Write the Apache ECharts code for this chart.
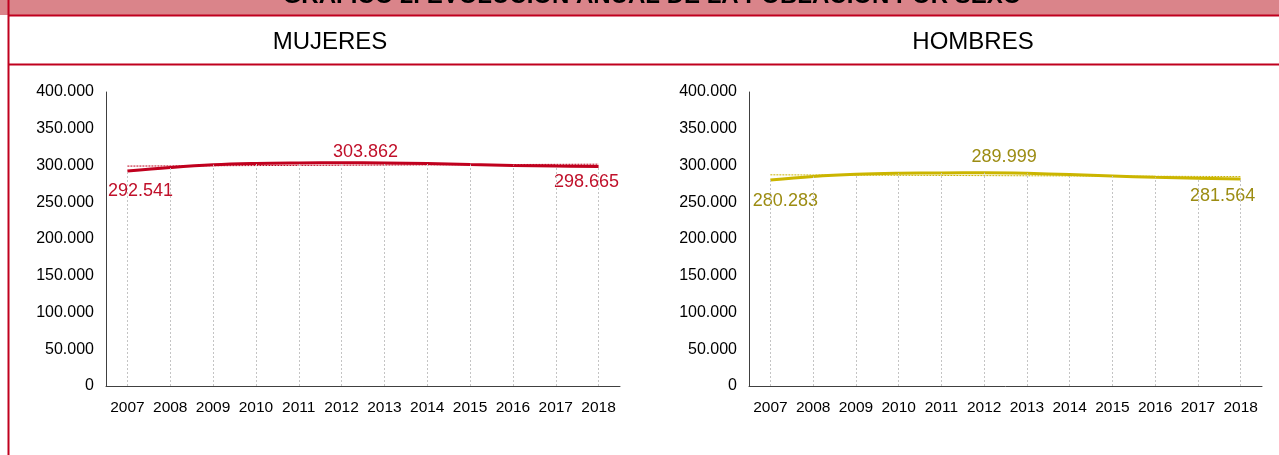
<!DOCTYPE html>
<html><head><meta charset="utf-8">
<script src="https://cdn.jsdelivr.net/npm/echarts@6/dist/echarts.min.js"></script>
<style>html,body{margin:0;padding:0;background:#fff}#c{width:1279px;height:455px}</style>
</head><body><div id="c"></div>
<script>
const years = ['2007','2008','2009','2010','2011','2012','2013','2014','2015','2016','2017','2018'];
const mujeres = [292541, 297300, 300900, 302700, 303500, 303862, 303500, 302600, 301200, 300000, 299200, 298665];
const hombres = [280283, 285100, 288000, 289400, 289900, 289999, 289300, 287700, 285800, 283900, 282600, 281564];
const yMin = 0, yMax = 400000, yStep = 50000;
const mainTitle = 'GRÁFICO 2. EVOLUCIÓN ANUAL DE LA POBLACIÓN POR SEXO';
const panelTitles = ['MUJERES', 'HOMBRES'];

const RED = '#c0001e', RED_LABEL = '#c0102a';
const YEL = '#cbb500', YEL_LABEL = '#9c8c12';
const FONT = 'Liberation Sans, Arial, sans-serif';

function fmt(v){
  const s = String(Math.round(v));
  return s.replace(/\B(?=(\d{3})+(?!\d))/g, '.');
}
function trend(arr){
  const n = arr.length; let sx=0, sy=0, sxx=0, sxy=0;
  arr.forEach((y,i)=>{sx+=i; sy+=y; sxx+=i*i; sxy+=i*y;});
  const b = (n*sxy - sx*sy)/(n*sxx - sx*sx), a = (sy - b*sx)/n;
  return arr.map((_,i)=>a+b*i);
}
function labeled(arr, color, offs){
  const maxI = arr.indexOf(Math.max(...arr));
  return arr.map((v,i)=>{
    let o = null;
    if (i===0) o = offs[0]; else if (i===maxI) o = offs[1]; else if (i===arr.length-1) o = offs[2];
    if (!o) return v;
    return {value: v, label: {show: true, position: o.pos, offset: o.off, color: color,
      fontSize: 18, fontFamily: FONT, formatter: p => fmt(p.value)}};
  });
}
function dropLines(arr){
  return {
    silent:true, symbol:['none','none'], label:{show:false},
    lineStyle:{color:'#c4c4c4', type:[2,2], width:1},
    data: arr.map((v,i)=>[{coord:[i,0]},{coord:[i,v]}])
  };
}

const grids = [{left:106, top:92, width:514, height:294},{left:749, top:92, width:513, height:294}];
const xAxes = grids.map((g,i)=>({
  type:'category', gridIndex:i, data:years, boundaryGap:true,
  axisLine:{show:true, lineStyle:{color:'#404040', width:1}},
  axisTick:{show:false},
  axisLabel:{color:'#000', fontSize:15.5, fontFamily:FONT, margin:14, interval:0},
  splitLine:{show:false}
}));
const yAxes = grids.map((g,i)=>({
  type:'value', gridIndex:i, min:yMin, max:yMax, interval:yStep,
  axisLine:{show:true, lineStyle:{color:'#404040', width:1}},
  axisTick:{show:false},
  splitLine:{show:false},
  axisLabel:{color:'#000', fontSize:16, fontFamily:FONT, margin:12, formatter: v => fmt(v)}
}));

const option = {
  backgroundColor:'#fff',
  animation:false,
  grid: grids,
  xAxis: xAxes,
  yAxis: yAxes,
  series: [
    {type:'line', xAxisIndex:0, yAxisIndex:0, data: trend(mujeres), symbol:'none', z:2,
     lineStyle:{color:RED, width:1, type:[2,1]}, silent:true},
    {type:'line', xAxisIndex:0, yAxisIndex:0, smooth:0.4, symbol:'circle', symbolSize:0, showSymbol:true, z:3,
     itemStyle:{color:RED}, lineStyle:{color:RED, width:3}, markLine: dropLines(mujeres),
     data: labeled(mujeres, RED_LABEL, [{pos:'bottom', off:[13,6]},{pos:'top', off:[24,3]},{pos:'bottom', off:[-12,2]}])},
    {type:'line', xAxisIndex:1, yAxisIndex:1, data: trend(hombres), symbol:'none', z:2,
     lineStyle:{color:YEL, width:1, type:[2,1]}, silent:true},
    {type:'line', xAxisIndex:1, yAxisIndex:1, smooth:0.4, symbol:'circle', symbolSize:0, showSymbol:true, z:3,
     itemStyle:{color:YEL}, lineStyle:{color:YEL, width:3}, markLine: dropLines(hombres),
     data: labeled(hombres, YEL_LABEL, [{pos:'bottom', off:[15,7]},{pos:'top', off:[20,-2]},{pos:'bottom', off:[-18,3]}])}
  ],
  graphic: [
    {type:'rect', shape:{x:0, y:0, width:1279, height:15}, style:{fill:'#da848a'}, z:0},
    {type:'text', x:652, y:-4, style:{text:mainTitle, fill:'#000', font:'bold 24px '+FONT, align:'center', verticalAlign:'middle'}, z:1},
    {type:'line', shape:{x1:8, y1:15.5, x2:1279, y2:15.5}, style:{stroke:'#c0001e', lineWidth:2}, z:2},
    {type:'line', shape:{x1:8, y1:64.5, x2:1279, y2:64.5}, style:{stroke:'#c0001e', lineWidth:2}, z:2},
    {type:'line', shape:{x1:8.5, y1:0, x2:8.5, y2:455}, style:{stroke:'#c0001e', lineWidth:2}, z:2},
    {type:'text', x:330, y:42, style:{text:panelTitles[0], fill:'#000', font:'24px '+FONT, align:'center', verticalAlign:'middle'}},
    {type:'text', x:973, y:42, style:{text:panelTitles[1], fill:'#000', font:'24px '+FONT, align:'center', verticalAlign:'middle'}}
  ]
};
echarts.init(document.getElementById('c')).setOption(option);
</script></body></html>
